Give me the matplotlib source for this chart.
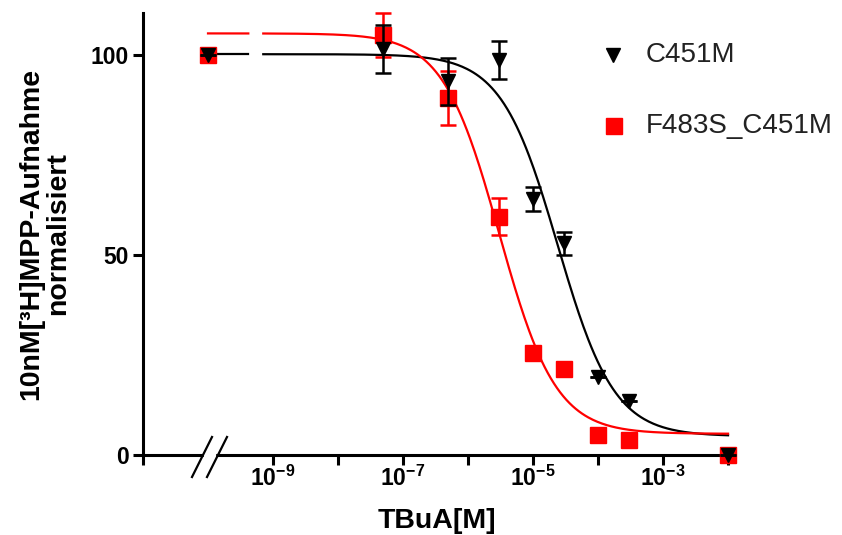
import numpy as np
import matplotlib.pyplot as plt
from matplotlib.lines import Line2D
from matplotlib.patches import Rectangle
from matplotlib.ticker import FixedLocator, NullLocator

plt.rcParams['font.family'] = ['Liberation Sans', 'DejaVu Sans']
plt.rcParams['mathtext.fontset'] = 'custom'
plt.rcParams['mathtext.rm'] = 'Liberation Sans:bold'
plt.rcParams['mathtext.bf'] = 'Liberation Sans:bold'
plt.rcParams['mathtext.default'] = 'bf'

# concentrations TBuA [M] (first one = control, left of the axis break)
conc = [1e-10, 5e-8, 5e-7, 3e-6, 1e-5, 3e-5, 1e-4, 3e-4, 1e-2]
c451m = [100, 101.6, 93.4, 98.8, 64.1, 52.9, 19.5, 13.6, 0]
c451m_err = [0, 6, 5.9, 4.8, 3, 2.9, 0, 0, 0]
f483s = [100, 105, 89.2, 59.6, 25.6, 21.6, 5.0, 3.8, 0]
f483s_err = [0, 5.5, 6.7, 4.6, 0, 0, 0, 0, 0]

# sigmoidal fit parameters: top, bottom, logIC50, hill slope
fit_c451m = (100.2, 4.7, -4.62, 1.0)
fit_f483s = (105.4, 5.3, -5.52, 1.0)

labels = ['C451M', 'F483S_C451M']

W, H = 842, 535
fig = plt.figure(figsize=(W / 100, H / 100), dpi=100)
ax = fig.add_axes([143 / W, 80 / H, (730 - 143) / W, (455 - 13) / H])


def px(x, y):
    return x / W, 1 - y / H


def curve(p, x):
    top, bottom, logic50, hill = p
    return bottom + (top - bottom) / (1 + 10 ** ((x - logic50) * hill))


# fitted curves, with a small gap near the break
for p, col in [(fit_c451m, 'black'), (fit_f483s, 'red')]:
    for lo, hi in [(-10, -9.38), (-9.15, -2)]:
        lx = np.linspace(lo, hi, 300)
        ax.plot(10 ** lx, curve(p, lx), color=col, lw=1.6, zorder=2)

ax.errorbar(conc, f483s, yerr=f483s_err, fmt='s', color='red', ms=11,
            elinewidth=1.8, capsize=6, capthick=1.8, zorder=3, clip_on=False)
ax.errorbar(conc, c451m, yerr=c451m_err, fmt='v', color='black', ms=10,
            elinewidth=1.8, capsize=6, capthick=1.8, zorder=4, clip_on=False)

ax.set_xscale('log')
ax.set_xlim(1e-11, 10 ** -1.97)
ax.set_ylim(0, 110.5)

ax.spines['top'].set_visible(False)
ax.spines['right'].set_visible(False)
for s in ['left', 'bottom']:
    ax.spines[s].set_linewidth(2.2)

ax.xaxis.set_major_locator(FixedLocator([1e-11] + [10.0 ** e for e in range(-9, -1)]))
ax.xaxis.set_minor_locator(NullLocator())
xt = [''] + [f'$10^{{{e}}}$' if e % 2 else '' for e in range(-9, -1)]
ax.set_xticklabels(xt)
ax.set_yticks([0, 50, 100])
ax.tick_params(axis='both', direction='out', length=7, width=2.2,
               labelsize=16.5, pad=3)
ax.tick_params(axis='x', pad=1)
for t in ax.get_yticklabels():
    t.set_fontweight('bold')

ax.set_xlabel('TBuA[M]', fontsize=20.5, fontweight='bold')
ax.xaxis.set_label_coords(0.5, -0.12)
ax.set_ylabel('10nM[³H]MPP-Aufnahme\nnormalisiert', fontsize=20.5,
              fontweight='bold', labelpad=14, linespacing=1.05)

# axis break
fig.add_artist(Rectangle(px(204, 458), 11 / W, 6 / H, color='white', zorder=5))
for x0 in [192, 207]:
    fig.add_artist(Line2D([x0 / W, (x0 + 20) / W], [1 - 477 / H, 1 - 437 / H],
                          color='black', lw=1.6, zorder=6))

# legend
fig.add_artist(Line2D([px(613, 55)[0]], [px(613, 55)[1]], marker='v',
                      color='black', ms=10.5, ls='none'))
fig.text(*px(646, 55), labels[0], fontsize=20, va='center', color='#222222')
fig.add_artist(Line2D([px(614, 126)[0]], [px(614, 126)[1]], marker='s',
                      color='red', ms=11, ls='none'))
fig.text(*px(646, 126), labels[1], fontsize=20, va='center', color='#222222')

fig.savefig('out.png', dpi=100)
